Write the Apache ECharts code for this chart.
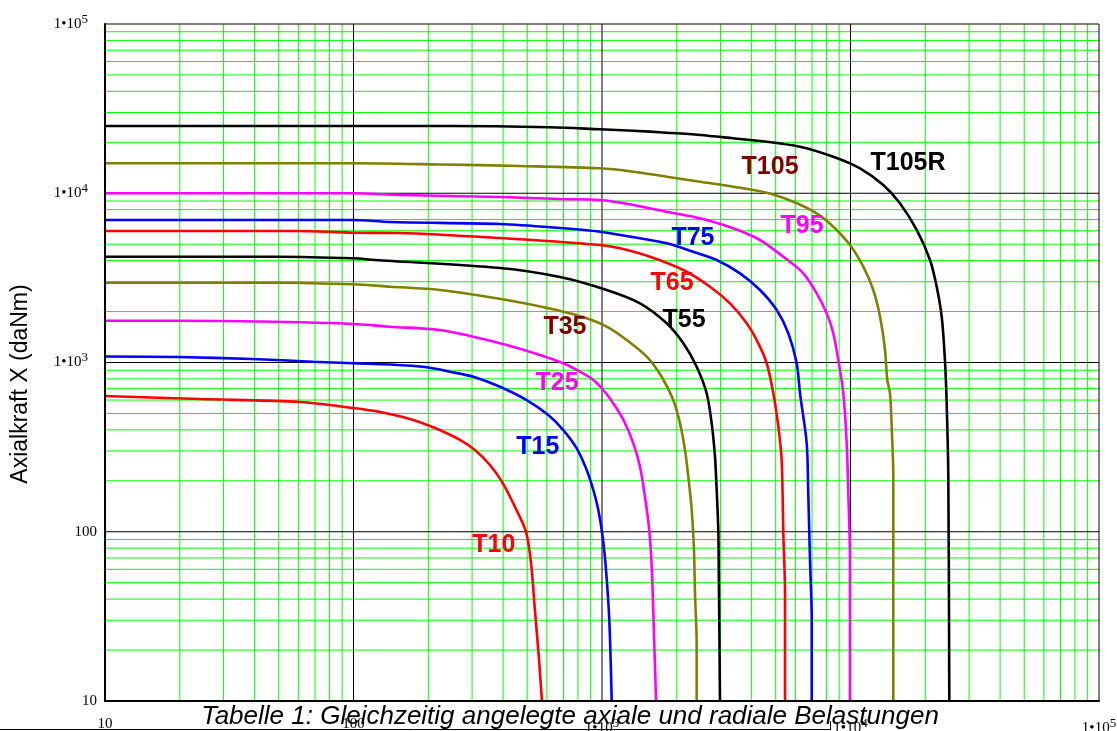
<!DOCTYPE html>
<html>
<head>
<meta charset="utf-8">
<script src="https://cdn.jsdelivr.net/npm/echarts@6/dist/echarts.min.js"></script>
<style>
html,body{margin:0;padding:0;background:#fff;}
#chart{width:1117px;height:731px;}
</style>
</head>
<body>
<div id="chart"></div>
<script>
// ---- data ----
const decadeTicks = [10, 100, 1000, 10000, 100000];
const minorFactors = [2, 3, 4, 5, 6, 7, 8, 9];

const t10 = [[10,634],[24.1,608],[60.9,584],[99.5,538],[127.9,510],[168.8,464],[212.8,410],[268.2,349],[308,304],[354,248],[396,197],[446.7,140],[494.5,99.7],[518,65.4],[537,34.5],[558,17.5],[573,10]];
const t15 = [[10,1085],[19.5,1078],[39,1049],[68.7,1011],[99.5,989],[140.3,973],[197,937],[244.5,882],[303.4,824],[388.6,719.5],[497.7,600],[608,489.6],[698.5,399],[791,311],[867.8,231.6],[922.6,176.5],[966.5,134.5],[1006,93.5],[1038,59.4],[1070,30.1],[1094,10]];
const t25 = [[10,1766],[29.5,1759],[60.9,1728],[99.8,1689],[140.3,1628],[222.8,1556],[303.4,1421],[413.6,1269],[563,1108],[698.5,989],[815.6,882],[922.6,788],[1012,688],[1110,574],[1226,451],[1337,333],[1422,242],[1489,161],[1549,102.4],[1585,62.2],[1609,33],[1650,10]];
const t35 = [[10,2962],[49.5,2962],[99.5,2897],[140.3,2805],[222.8,2682],[413.6,2341],[657,2042],[867.8,1824],[1044,1628],[1257,1358],[1514,1082],[1738,824],[1936,600],[2060,437],[2158,304],[2225,211.5],[2296,134.5],[2345,78],[2367,43.3],[2404,21.9],[2404,10]];
const t55 = [[10,4217],[49.5,4217],[99.5,4128],[122,4033],[388.6,3616],[677.7,3199],[1044,2682],[1422,2237],[1821,1705],[2125,1298],[2404,944.5],[2638,657.7],[2763,437],[2849,277.6],[2894,176.5],[2938,102.4],[2950,62.2],[2984,10]];
const t65 = [[10,5984],[59.2,5984],[99.5,5848],[153.8,5821],[388.6,5439],[981.6,4946],[1181,4729],[1560,4217],[2125,3520],[2720,2805],[3273,2237],[3822,1705],[4256,1298],[4601,989],[4891,657.7],[5123,417.5],[5284,265.5],[5366,98],[5451,43.3],[5451,10]];
const t75 = [[10,6950],[99.5,6950],[140.3,6761],[388.6,6580],[677.7,6232],[981.6,5927],[1422,5418],[1821,5062],[2330,4514],[2894,4033],[3592,3365],[4323,2682],[5047,2042],[5620,1488],[6074,989],[6264,657.7],[6665,333],[6761,168.8],[6871,68.1],[6982,30.1],[6982,10]];
const t95 = [[10,10000],[99.5,10000],[153.8,9765],[388.6,9506],[677.7,9247],[981.6,9120],[1337,8521],[1821,7780],[2480,7112],[3375,6209],[4323,5294],[5366,4217],[6457,3365],[7311,2564],[8017,1953],[8524,1488],[8932,1035],[9354,657.7],[9654,333],[9800,168.8],[9953,68.1],[9953,10]];
const t105 = [[10,15031],[99.5,15031],[222.8,14791],[467.7,14488],[981.6,14040],[1337,13406],[1821,12524],[2480,11700],[3375,10933],[4601,10076],[5888,8916],[7311,7612],[8524,6345],[9953,4946],[11260,3681],[12350,2682],[13146,1865],[13767,1185],[14062,788],[14420,657.7],[14647,417.5],[14865,211.5],[14865,10]];
const t105R = [[10,24950],[244.5,24950],[617.6,24530],[981.6,23870],[1337,23420],[1821,22790],[2480,22090],[3375,21120],[4601,20160],[6264,18840],[8524,16440],[10920,14040],[13550,11190],[15810,8720],[18470,6067],[20890,4033],[22230,2805],[23280,1865],[23990,1035],[24380,574],[24750,211.5],[24980,10]];

const seriesNames = ['T10','T15','T25','T35','T55','T65','T75','T95','T105','T105R'];
const seriesData = [t10, t15, t25, t35, t55, t65, t75, t95, t105, t105R];
const seriesColors = ['#ff0000','#0000ff','#ff00ff','#808000','#000000','#ff0000','#0000ff','#ff00ff','#808000','#000000'];

// curve labels: name, anchor [x, y] in data units, colour
const labelNames = ['T10','T15','T25','T35','T55','T65','T75','T95','T105','T105R'];
const labelAnchors = [[367,83.5],[552,316.7],[659,756],[709.6,1621],[2138,1782],[1913,2949],[2323,5439],[6383,6405],[4745,14290],[17040,15090]];
const labelColors = ['#ff0000','#0000ff','#ff00ff','#800000','#000000','#ff0000','#0000ff','#ff00ff','#800000','#000000'];

const titleText = 'Tabelle 1: Gleichzeitig angelegte axiale und radiale Belastungen';
const yAxisTitle = 'Axialkraft X (daNm)';

// ---- build ----
const AXMIN = decadeTicks[0], AXMAX = decadeTicks[decadeTicks.length - 1];
const minorValues = [];
for (let i = 0; i < decadeTicks.length - 1; i++) {
  for (const f of minorFactors) minorValues.push(decadeTicks[i] * f);
}
const majorValues = decadeTicks.slice(1);

function gridItems(values) {
  const out = [];
  values.forEach(v => { out.push([v, AXMIN, 0]); out.push([AXMIN, v, 1]); });
  return out;
}

function gridSeries(values, color, z) {
  return {
    type: 'custom', coordinateSystem: 'cartesian2d', z: z, silent: true, animation: false,
    clip: false,
    data: gridItems(values),
    renderItem: function (params, api) {
      const vert = api.value(2) === 0;
      let p1, p2;
      if (vert) {
        const x = api.value(0);
        p1 = api.coord([x, AXMIN]); p2 = api.coord([x, AXMAX]);
      } else {
        const y = api.value(1);
        p1 = api.coord([AXMIN, y]); p2 = api.coord([AXMAX, y]);
      }
      return {
        type: 'line',
        shape: { x1: p1[0], y1: p1[1], x2: p2[0], y2: p2[1] },
        style: { stroke: color, lineWidth: 1 }
      };
    }
  };
}

function tickLabel(v) {
  const e = Math.round(Math.log10(v));
  if (e <= 2) return String(Math.round(v));
  return '1\u202210{s|' + e + '}';
}

const chart = echarts.init(document.getElementById('chart'), null, { renderer: 'canvas' });

const series = [];
series.push(gridSeries(minorValues, '#00ff00', 1));
series.push(gridSeries(majorValues, '#000000', 1));

seriesNames.forEach((n, i) => {
  series.push({
    name: n, type: 'line', data: seriesData[i], showSymbol: false, symbol: 'none',
    smooth: 0.3, z: 3, animation: false,
    lineStyle: { color: seriesColors[i], width: 2.6 },
    itemStyle: { color: seriesColors[i] }
  });
});

series.push({
  type: 'custom', coordinateSystem: 'cartesian2d', z: 4, silent: true, animation: false,
  data: labelAnchors.map((a, i) => ({ name: labelNames[i], value: [a[0], a[1], i] })),
  renderItem: function (params, api) {
    const p = api.coord([api.value(0), api.value(1)]);
    const i = api.value(2);
    return {
      type: 'text', x: p[0], y: p[1],
      style: {
        text: labelNames[i], fill: labelColors[i],
        font: 'bold 25px "Liberation Sans", Arial, sans-serif',
        align: 'center', verticalAlign: 'middle'
      }
    };
  }
});

const option = {
  backgroundColor: '#ffffff',
  animation: false,
  grid: { left: 105, right: 18, top: 24, bottom: 30, containLabel: false, outerBoundsMode: 'none' },
  xAxis: {
    type: 'log', logBase: 10, min: AXMIN, max: AXMAX, z: 6,
    axisLine: { show: true, onZero: false, lineStyle: { color: '#000', width: 2 } },
    axisTick: { show: false },
    splitLine: { show: false },
    axisLabel: {
      margin: 16, color: '#000', fontFamily: 'Liberation Serif', fontSize: 15,
      formatter: tickLabel,
      rich: { s: { fontFamily: 'Liberation Serif', fontSize: 13, color: '#000', padding: [0, 0, 9, 0] } }
    }
  },
  yAxis: {
    type: 'log', logBase: 10, min: AXMIN, max: AXMAX, z: 6,
    axisLine: { show: true, onZero: false, lineStyle: { color: '#000', width: 2 } },
    axisTick: { show: false },
    splitLine: { show: false },
    axisLabel: {
      margin: 8, color: '#000', fontFamily: 'Liberation Serif', fontSize: 15,
      formatter: tickLabel,
      rich: { s: { fontFamily: 'Liberation Serif', fontSize: 13, color: '#000', padding: [0, 9, 9, 0] } }
    }
  },
  graphic: [
    { type: 'rect', z: 1, silent: true, shape: { x: 0, y: 703, width: 830, height: 26 },
      style: { fill: '#ffffff' } },
    { type: 'line', z: 2, silent: true, shape: { x1: 0, y1: 729.5, x2: 830.5, y2: 729.5 },
      style: { stroke: '#000', lineWidth: 1 } },
    { type: 'line', z: 2, silent: true, shape: { x1: 830.5, y1: 721, x2: 830.5, y2: 730 },
      style: { stroke: '#000', lineWidth: 1 } },
    { type: 'text', z: 2, silent: true, x: 570, y: 717,
      style: { text: titleText, fill: '#000', font: 'italic 26px "Liberation Sans", Arial, sans-serif',
        textAlign: 'center', textVerticalAlign: 'middle' } },
    { type: 'text', z: 2, silent: true, x: 21, y: 384, rotation: Math.PI / 2,
      style: { text: yAxisTitle, fill: '#000', font: '23px "Liberation Sans", Arial, sans-serif',
        textAlign: 'center', textVerticalAlign: 'middle' } }
  ],
  series: series
};
chart.setOption(option);
</script>
</body>
</html>
